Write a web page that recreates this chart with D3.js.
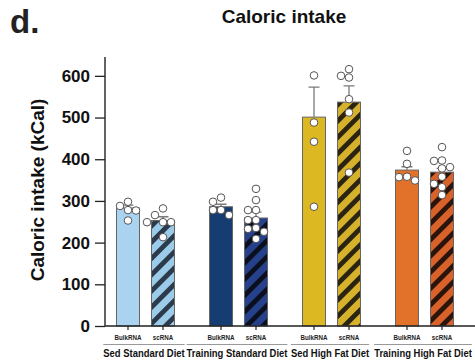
<!DOCTYPE html>
<html>
<head>
<meta charset="utf-8">
<script src="https://cdn.jsdelivr.net/npm/d3@7"></script>
<style>
html,body{margin:0;padding:0;background:#fff;}
svg{display:block;font-family:"Liberation Sans",Arial,Helvetica,sans-serif;}
</style>
</head>
<body>
<svg id="chart" width="475" height="362"></svg>
<script>
// ---- data ----
const groups = ["Sed Standard Diet", "Training Standard Diet", "Sed High Fat Diet", "Training High Fat Diet"];
const subgroups = ["BulkRNA", "scRNA"];
const bulkMeans = [283, 286, 501, 374];
const scMeans = [253, 259, 537, 369];
const bulkSEM = [7, 6, 72, 8];
const scSEM = [9, 14, 39, 9];
const bulkPoints = [
  [298, 288, 278, 277, 253],
  [308, 298, 278, 278, 266],
  [601, 488, 442, 286],
  [420, 389, 358, 357, 349]
];
const scPoints = [
  [282, 266, 249, 249, 249, 213],
  [329, 302, 278, 278, 254, 254, 235, 233, 226, 209],
  [616, 600, 596, 544, 512, 368],
  [429, 397, 396, 381, 378, 358, 341, 333, 314]
];
const yTicks = [0, 100, 200, 300, 400, 500, 600];
const title = "Caloric intake";
const yLabel = "Caloric intake (kCal)";
const panelLabel = "d.";

// ---- styles ----
const baseColors = ["#a9d3f0", "#163d72", "#dcb823", "#e2712a"];
const scBase = ["#9ccbea", "#26418c", "#d6b22c", "#d9612a"];
const stripeColors = ["#2c3b4c", "#0b0f1e", "#2a2410", "#2a140c"];

const svg = d3.select("#chart");
const defs = svg.append("defs");

const x0 = d3.scaleBand().domain(groups).range([99, 471]).paddingInner(0).paddingOuter(0);
const x1 = d3.scalePoint().domain(subgroups).range([29, 64]);
const y = d3.scaleLinear().domain([0, 650]).range([326, 55]);
const barW = 23;

// stripe patterns
groups.forEach((g, i) => {
  const p = defs.append("pattern")
    .attr("id", "stripe" + i)
    .attr("patternUnits", "userSpaceOnUse")
    .attr("width", 11.5).attr("height", 11.5)
    .attr("patternTransform", "rotate(45)");
  p.append("rect").attr("width", 11.5).attr("height", 11.5).attr("fill", scBase[i]);
  p.append("rect").attr("x", 0).attr("width", 4.8).attr("height", 11.5).attr("fill", stripeColors[i]);
});

// panel label and title
svg.append("text").attr("x", 10).attr("y", 33).attr("font-size", 33).attr("font-weight", "bold")
  .attr("fill", "#222").text(panelLabel);
svg.append("text").attr("x", 284).attr("y", 23).attr("text-anchor", "middle")
  .attr("font-size", 19).attr("font-weight", "bold").attr("fill", "#111").text(title);

// y axis
const yAxis = svg.append("g").attr("transform", "translate(105,0)")
  .call(d3.axisLeft(y).tickValues(yTicks).tickSize(10).tickPadding(5).tickSizeOuter(0));
yAxis.select(".domain").attr("stroke", "#222").attr("stroke-width", 1.4).attr("d", `M0,${y(0)}V57`);
yAxis.selectAll(".tick line").attr("stroke", "#222").attr("stroke-width", 1.3);
yAxis.selectAll(".tick text").attr("font-size", 17).attr("font-weight", "bold").attr("fill", "#111")
  .attr("font-family", "Liberation Sans, Arial, sans-serif");

svg.append("text")
  .attr("transform", `translate(44,190) rotate(-90)`)
  .attr("text-anchor", "middle").attr("font-size", 19).attr("font-weight", "bold").attr("fill", "#111")
  .text(yLabel);

// bars data
const bars = [];
groups.forEach((g, i) => {
  bars.push({g, i, sub: "BulkRNA", mean: bulkMeans[i], sem: bulkSEM[i], pts: bulkPoints[i]});
  bars.push({g, i, sub: "scRNA", mean: scMeans[i], sem: scSEM[i], pts: scPoints[i]});
});
const cx = d => x0(d.g) + x1(d.sub);

// bars
svg.append("g").selectAll("rect").data(bars).join("rect")
  .attr("x", d => cx(d) - barW / 2)
  .attr("y", d => y(d.mean))
  .attr("width", barW)
  .attr("height", d => y(0) - y(d.mean))
  .attr("fill", d => d.sub === "BulkRNA" ? baseColors[d.i] : `url(#stripe${d.i})`)
  .attr("stroke", "#666").attr("stroke-width", 1);

// error bars
const eg = svg.append("g").attr("stroke", "#7a7a7a").attr("stroke-width", 1.3).attr("fill", "none");
eg.selectAll("path").data(bars).join("path")
  .attr("d", d => {
    const c = cx(d), t = y(d.mean + d.sem);
    return `M${c},${y(d.mean)}V${t}M${c - 5.5},${t}H${c + 5.5}`;
  });

// points (simple dodge layout)
const r = 3.8;
const offsets = [0, -8, 8, -16, 16];
bars.forEach(d => {
  const placed = [];
  d.pts.forEach(v => {
    const py = y(v);
    let chosen = 0;
    for (const o of offsets) {
      const ok = placed.every(p => Math.hypot(p.o - o, p.py - py) >= 2 * r + 0.2);
      if (ok) { chosen = o; break; }
    }
    placed.push({o: chosen, py, v});
  });
  svg.append("g").selectAll("circle").data(placed).join("circle")
    .attr("cx", p => cx(d) + p.o)
    .attr("cy", p => p.py)
    .attr("r", r)
    .attr("fill", "#fff").attr("stroke", "#555").attr("stroke-width", 1);
});

// x axis
svg.append("line").attr("x1", 105).attr("x2", 475).attr("y1", y(0)).attr("y2", y(0))
  .attr("stroke", "#222").attr("stroke-width", 1.4);
svg.append("g").selectAll("line").data(bars).join("line")
  .attr("x1", cx).attr("x2", cx).attr("y1", y(0)).attr("y2", y(0) + 4)
  .attr("stroke", "#222").attr("stroke-width", 1.2);

// sublabels (slightly condensed)
svg.append("g").selectAll("text").data(bars).join("text")
  .attr("transform", d => `translate(${cx(d)},340) scale(0.84,1)`)
  .attr("text-anchor", "middle")
  .attr("font-size", 7.4).attr("font-weight", "bold").attr("fill", "#222")
  .text(d => d.sub);

// group labels with bracket lines
const gl = svg.append("g");
const sx = 0.86;
groups.forEach((g, i) => {
  const c = x0(g) + x0.bandwidth() / 2 - 1.5;
  const t = gl.append("text").attr("transform", `translate(${c},356.5) scale(${sx},1)`)
    .attr("text-anchor", "middle")
    .attr("font-size", 11).attr("font-weight", "bold").attr("fill", "#111").text(g);
  const w = t.node().getComputedTextLength() * sx;
  gl.append("line").attr("x1", c - w / 2).attr("x2", c + w / 2).attr("y1", 344.5).attr("y2", 344.5)
    .attr("stroke", "#999").attr("stroke-width", 1);
});
</script>
</body>
</html>
